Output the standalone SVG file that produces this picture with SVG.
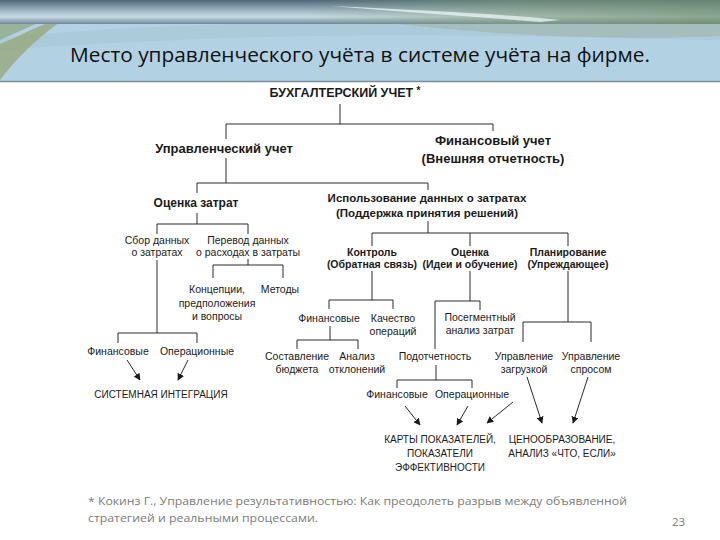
<svg xmlns="http://www.w3.org/2000/svg" width="720" height="540" viewBox="0 0 720 540">
<defs>
<linearGradient id="band" x1="0" y1="0" x2="0" y2="1">
<stop offset="0" stop-color="#4d6779"/>
<stop offset="0.45" stop-color="#9fb7c4"/>
<stop offset="0.7" stop-color="#c9dbe3"/>
<stop offset="1" stop-color="#6f8798"/>
</linearGradient>
<linearGradient id="green" x1="0" y1="0" x2="1" y2="0">
<stop offset="0" stop-color="#7f9c7a" stop-opacity="0"/>
<stop offset="0.5" stop-color="#7f9c7a" stop-opacity="0.55"/>
<stop offset="1" stop-color="#6f8f6c" stop-opacity="0.7"/>
</linearGradient>
<marker id="arr" viewBox="0 0 10 10" refX="9" refY="5" markerWidth="7" markerHeight="7" orient="auto" markerUnits="userSpaceOnUse">
<path d="M0,0 L10,5 L0,10 z" fill="#1a1a1a"/>
</marker>
<style>
.b{font-family:"Liberation Sans",Arial,sans-serif;font-weight:bold;fill:#1a1a1a;text-anchor:middle}
.r{font-family:"Liberation Sans",Arial,sans-serif;fill:#1a1a1a;text-anchor:middle;font-size:10.5px}
.u{font-family:"Liberation Sans",Arial,sans-serif;fill:#1a1a1a;text-anchor:middle;font-size:10px}
.c line,.c path{stroke:#2a2a2a;stroke-width:1;fill:none}
.a{marker-end:url(#arr)}
.fn{font-family:"Open Sans","Liberation Sans",sans-serif;fill:#7a7a7a;font-size:11.5px}
</style>
</defs>
<rect width="720" height="540" fill="#ffffff"/>
<g id="header">
<rect x="0" y="0" width="720" height="81" fill="#b2d1e3"/>
<path d="M0,38 C200,18 420,22 720,20 L720,40 C520,36 300,28 0,50 z" fill="#a6c4d4" opacity="0.6"/>
<path d="M0,40 L40,22 L0,22 z" fill="#8fa57a" opacity="0.7"/>
<path d="M0,80 L0,44 C15,38 30,30 45,24 L60,22 C35,40 15,60 0,80 z" fill="#97a87c" opacity="0.8"/>
<path d="M380,22 L720,22 L720,36 C620,40 520,38 380,22 z" fill="#9fb5a9" opacity="0.6"/>
<rect x="0" y="0" width="720" height="24" fill="url(#band)"/>
<rect x="300" y="0" width="420" height="24" fill="url(#green)"/>
<path d="M330,6 C420,10 500,14 560,20 L540,22 C470,16 400,12 330,6 z" fill="#e6f0f4" opacity="0.8"/>
<line x1="0" y1="81.5" x2="720" y2="81.5" stroke="#7b8f9b" stroke-width="1.5"/>
<text x="360" y="62" font-family="'Open Sans','Liberation Sans',sans-serif" font-size="19.5" fill="#111" text-anchor="middle" textLength="580" lengthAdjust="spacingAndGlyphs">Место управленческого учёта в системе учёта на фирме.</text>
</g>
<g id="connectors" class="c">
<line x1="340" y1="104" x2="340" y2="124"/>
<line x1="226" y1="124" x2="493" y2="124"/>
<line x1="226" y1="124" x2="226" y2="139"/>
<line x1="493" y1="124" x2="493" y2="131"/>
<line x1="226" y1="158" x2="226" y2="183"/>
<line x1="197" y1="183" x2="428" y2="183"/>
<line x1="197" y1="183" x2="197" y2="193"/>
<line x1="428" y1="183" x2="428" y2="190"/>
<line x1="197" y1="213" x2="197" y2="224"/>
<line x1="157" y1="224" x2="248" y2="224"/>
<line x1="157" y1="224" x2="157" y2="234"/>
<line x1="248" y1="224" x2="248" y2="234"/>
<line x1="157" y1="260" x2="157" y2="333"/>
<line x1="118" y1="333" x2="197" y2="333"/>
<line x1="118" y1="333" x2="118" y2="343"/>
<line x1="197" y1="333" x2="197" y2="343"/>
<line x1="248" y1="259" x2="248" y2="265"/>
<line x1="213" y1="265" x2="283" y2="265"/>
<line x1="213" y1="265" x2="213" y2="278"/>
<line x1="283" y1="265" x2="283" y2="278"/>
<line x1="127" y1="360" x2="140" y2="380" class="a"/>
<line x1="188" y1="360" x2="178" y2="380" class="a"/>
<line x1="428" y1="221" x2="428" y2="233"/>
<line x1="372" y1="233" x2="568" y2="233"/>
<line x1="372" y1="233" x2="372" y2="246"/>
<line x1="470" y1="233" x2="470" y2="246"/>
<line x1="568" y1="233" x2="568" y2="246"/>
<line x1="372" y1="271" x2="372" y2="300"/>
<line x1="329" y1="300" x2="393" y2="300"/>
<line x1="329" y1="300" x2="329" y2="309"/>
<line x1="393" y1="300" x2="393" y2="309"/>
<line x1="330" y1="326" x2="330" y2="340"/>
<line x1="297" y1="340" x2="358" y2="340"/>
<line x1="297" y1="340" x2="297" y2="349"/>
<line x1="358" y1="340" x2="358" y2="349"/>
<line x1="470" y1="271" x2="470" y2="301"/>
<line x1="435" y1="301" x2="480" y2="301"/>
<line x1="435" y1="301" x2="435" y2="349"/>
<line x1="480" y1="301" x2="480" y2="310"/>
<line x1="436" y1="365" x2="436" y2="380"/>
<line x1="397" y1="380" x2="472" y2="380"/>
<line x1="397" y1="380" x2="397" y2="388"/>
<line x1="472" y1="380" x2="472" y2="388"/>
<line x1="568" y1="271" x2="568" y2="322"/>
<line x1="523" y1="322" x2="591" y2="322"/>
<line x1="523" y1="322" x2="523" y2="342"/>
<line x1="591" y1="322" x2="591" y2="342"/>
<line x1="405" y1="406" x2="420" y2="425" class="a"/>
<line x1="468" y1="406" x2="457" y2="425" class="a"/>
<line x1="513" y1="402" x2="487" y2="423" class="a"/>
<line x1="527" y1="377" x2="542" y2="423" class="a"/>
<line x1="588" y1="377" x2="573" y2="423" class="a"/>
</g>
<g id="n-buh"><text class="b" x="345" y="97" font-size="12.5">БУХГАЛТЕРСКИЙ УЧЕТ <tspan dy="-3" font-size="10">*</tspan></text></g>
<g id="n-upr"><text class="b" x="224" y="153" font-size="13">Управленческий учет</text></g>
<g id="n-fin"><text class="b" x="493" y="145" font-size="13">Финансовый учет</text><text class="b" x="493" y="163" font-size="13">(Внешняя отчетность)</text></g>
<g id="n-ocz"><text class="b" x="196" y="207" font-size="12">Оценка затрат</text></g>
<g id="n-isp"><text class="b" x="427" y="202" font-size="11.5">Использование данных о затратах</text><text class="b" x="427" y="217" font-size="11.5">(Поддержка принятия решений)</text></g>
<g id="n-sbor"><text class="r" x="157" y="244">Сбор данных</text><text class="r" x="157" y="256">о затратах</text></g>
<g id="n-perevod"><text class="r" x="248" y="244">Перевод данных</text><text class="r" x="248" y="256">о расходах в затраты</text></g>
<g id="n-konc"><text class="r" x="217" y="293">Концепции,</text><text class="r" x="217" y="307">предположения</text><text class="r" x="217" y="320">и вопросы</text></g>
<g id="n-metody"><text class="r" x="280" y="293">Методы</text></g>
<g id="n-fin1"><text class="r" x="118" y="355">Финансовые</text></g>
<g id="n-oper1"><text class="r" x="197" y="355">Операционные</text></g>
<g id="n-sist"><text class="u" x="161" y="398">СИСТЕМНАЯ ИНТЕГРАЦИЯ</text></g>
<g id="n-kontrol"><text class="b" x="372" y="256" font-size="10.5">Контроль</text><text class="b" x="372" y="268" font-size="10.5">(Обратная связь)</text></g>
<g id="n-ocenka"><text class="b" x="470" y="256" font-size="10.5">Оценка</text><text class="b" x="470" y="268" font-size="10.5">(Идеи и обучение)</text></g>
<g id="n-plan"><text class="b" x="568" y="256" font-size="10.5">Планирование</text><text class="b" x="568" y="268" font-size="10.5">(Упреждающее)</text></g>
<g id="n-fin2"><text class="r" x="329" y="322">Финансовые</text></g>
<g id="n-kach"><text class="r" x="393" y="322">Качество</text><text class="r" x="393" y="335">операций</text></g>
<g id="n-poseg"><text class="r" x="480" y="321">Посегментный</text><text class="r" x="480" y="334">анализ затрат</text></g>
<g id="n-sost"><text class="r" x="297" y="360">Составление</text><text class="r" x="297" y="373">бюджета</text></g>
<g id="n-anal"><text class="r" x="357" y="360">Анализ</text><text class="r" x="357" y="373">отклонений</text></g>
<g id="n-podot"><text class="r" x="435" y="360">Подотчетность</text></g>
<g id="n-zagr"><text class="r" x="524" y="360">Управление</text><text class="r" x="524" y="373">загрузкой</text></g>
<g id="n-spros"><text class="r" x="591" y="360">Управление</text><text class="r" x="591" y="373">спросом</text></g>
<g id="n-fin3"><text class="r" x="397" y="398">Финансовые</text></g>
<g id="n-oper3"><text class="r" x="472" y="398">Операционные</text></g>
<g id="n-karty"><text class="u" x="440" y="443">КАРТЫ ПОКАЗАТЕЛЕЙ,</text><text class="u" x="440" y="457">ПОКАЗАТЕЛИ</text><text class="u" x="440" y="471">ЭФФЕКТИВНОСТИ</text></g>
<g id="n-ceno"><text class="u" x="562" y="443">ЦЕНООБРАЗОВАНИЕ,</text><text class="u" x="562" y="457">АНАЛИЗ «ЧТО, ЕСЛИ»</text></g>
<g id="footnote">
<text class="fn" x="88" y="505" textLength="539" lengthAdjust="spacingAndGlyphs">* Кокинз Г., Управление результативностью: Как преодолеть разрыв  между объявленной</text>
<text class="fn" x="88" y="522" textLength="230" lengthAdjust="spacingAndGlyphs">стратегией  и реальными процессами.</text>
<text class="fn" x="672" y="526" font-size="10.5">23</text>
</g>
</svg>
